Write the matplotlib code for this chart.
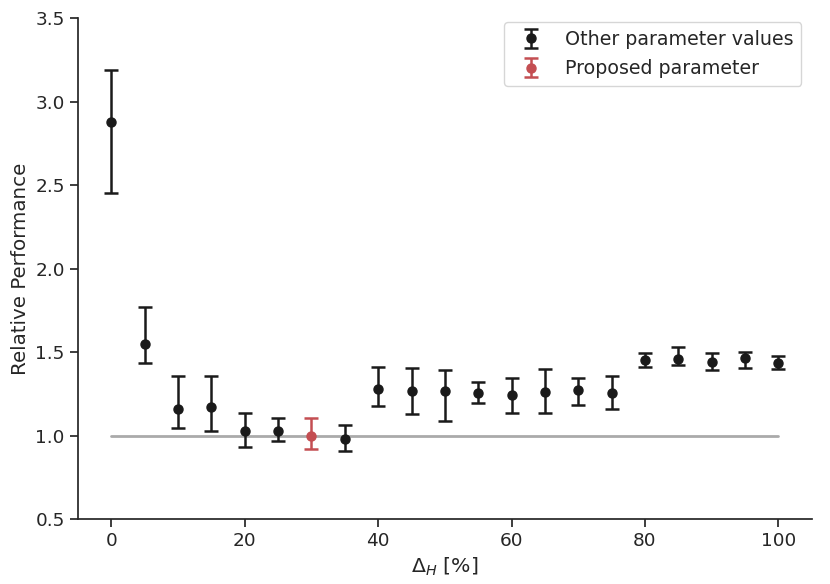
import matplotlib
matplotlib.use('Agg')
import matplotlib.pyplot as plt
import seaborn as sns
import numpy as np

sns.set_theme(style='ticks')
plt.rcParams['font.family'] = ['DejaVu Sans']

delta_h = [0, 5, 10, 15, 20, 25, 30, 35, 40, 45, 50, 55, 60, 65, 70, 75, 80, 85, 90, 95, 100]
perf = [2.88, 1.55, 1.16, 1.17, 1.03, 1.03, 1.00, 0.98, 1.28, 1.265, 1.267, 1.255, 1.246, 1.262,
        1.274, 1.257, 1.455, 1.459, 1.439, 1.465, 1.435]
upper = [3.19, 1.768, 1.359, 1.359, 1.138, 1.108, 1.106, 1.062, 1.411, 1.407, 1.393, 1.319, 1.345,
         1.399, 1.345, 1.359, 1.493, 1.533, 1.495, 1.499, 1.479]
lower = [2.451, 1.433, 1.048, 1.03, 0.932, 0.97, 0.922, 0.908, 1.176, 1.128, 1.088, 1.198, 1.138,
         1.138, 1.186, 1.157, 1.409, 1.421, 1.393, 1.405, 1.397]
proposed = 30

perf = np.array(perf)
err = np.array([perf - np.array(lower), np.array(upper) - perf])
x = np.array(delta_h)
is_prop = x == proposed

fig, ax = plt.subplots(figsize=(8.3, 5.84), dpi=100)
fig.subplots_adjust(left=0.094, right=0.978, top=0.969, bottom=0.111)

ax.plot([0, 100], [1, 1], color='#aaaaaa', lw=2, zorder=1)

kw = dict(fmt='o', capsize=5, elinewidth=1.8, capthick=1.8, markersize=6.5, zorder=3)
ax.errorbar(x[~is_prop], perf[~is_prop], yerr=err[:, ~is_prop], color='#1a1a1a',
            label='Other parameter values', **kw)
ax.errorbar(x[is_prop], perf[is_prop], yerr=err[:, is_prop], color='#c44e52',
            label='Proposed parameter', **kw)

ax.set_xlim(-5, 105)
ax.set_ylim(0.5, 3.5)
ax.set_xticks([0, 20, 40, 60, 80, 100])
ax.set_yticks([0.5, 1.0, 1.5, 2.0, 2.5, 3.0, 3.5])
ax.tick_params(labelsize=13.3)
ax.set_xlabel(r'$\Delta_H$ [%]', fontsize=14.7)
ax.set_ylabel('Relative Performance', fontsize=14.3)
ax.legend(loc='upper right', bbox_to_anchor=(0.986, 0.992), borderaxespad=0,
          fontsize=13.7, labelspacing=0.55)
sns.despine(ax=ax)

fig.savefig('out.png', dpi=100)
